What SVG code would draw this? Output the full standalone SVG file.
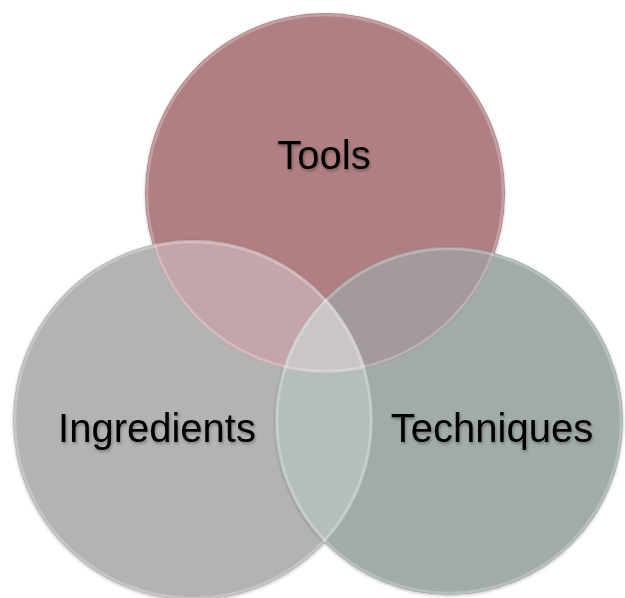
<svg xmlns="http://www.w3.org/2000/svg" width="625" height="598" viewBox="0 0 625 598">
<style>
.lbl{font-family:"Liberation Sans",Arial,sans-serif;font-size:40px;fill:#000;text-anchor:middle}
.edge{fill:none;stroke:#ffffff;stroke-opacity:0.25;stroke-width:2.5}
</style>
<defs>
<clipPath id="cT"><circle cx="325" cy="193" r="180"/></clipPath>
<clipPath id="cI"><circle cx="193" cy="420" r="180"/></clipPath>
<clipPath id="cQ"><circle cx="449" cy="421" r="174"/></clipPath>
<filter id="sh" x="-10%" y="-10%" width="120%" height="120%">
<feDropShadow dx="0" dy="1" stdDeviation="1.5" flood-color="#000" flood-opacity="0.25"/>
</filter>
<filter id="tsh" x="-10%" y="-20%" width="120%" height="140%">
<feDropShadow dx="1" dy="2" stdDeviation="1.5" flood-color="#000" flood-opacity="0.3"/>
</filter>
</defs>
<g id="tools">
<circle cx="325" cy="193" r="180" fill="#b07f83" filter="url(#sh)"/>
</g>
<g id="ingredients">
<circle cx="193" cy="420" r="180" fill="#b3b3b3" filter="url(#sh)"/>
</g>
<g id="techniques">
<circle cx="449" cy="421" r="174" fill="#a1abaa" filter="url(#sh)"/>
</g>
<g id="overlaps">
<circle cx="193" cy="420" r="180" fill="#c4a5a9" clip-path="url(#cT)"/>
<circle cx="449" cy="421" r="174" fill="#a4999b" clip-path="url(#cT)"/>
<circle cx="449" cy="421" r="174" fill="#b4bebd" clip-path="url(#cI)"/>
<g clip-path="url(#cT)"><circle cx="449" cy="421" r="174" fill="#cac5c6" clip-path="url(#cI)"/></g>
</g>
<g id="edges">
<circle class="edge" cx="325" cy="193" r="178"/>
<circle class="edge" cx="193" cy="420" r="178"/>
<circle class="edge" cx="449" cy="421" r="172"/>
</g>
<g id="labels" filter="url(#tsh)">
<text class="lbl" x="324" y="169">Tools</text>
<text class="lbl" x="157" y="442">Ingredients</text>
<text class="lbl" x="492" y="442">Techniques</text>
</g>
</svg>
